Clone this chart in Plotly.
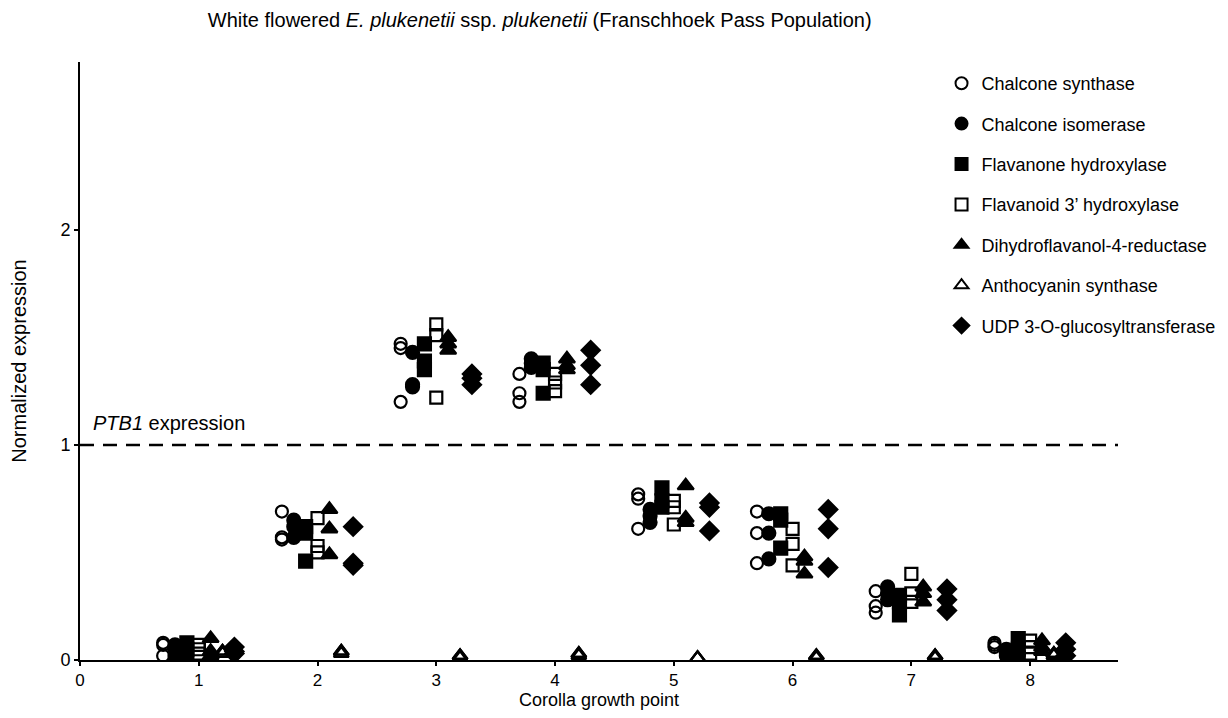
import plotly.graph_objects as go

growth_points = [1, 2, 3, 4, 5, 6, 7, 8]
x_ticks = [0, 1, 2, 3, 4, 5, 6, 7, 8]
y_ticks = [0, 1, 2]

genes = ["Chalcone synthase", "Chalcone isomerase", "Flavanone hydroxylase",
         "Flavanoid 3\u2019 hydroxylase", "Dihydroflavanol-4-reductase",
         "Anthocyanin synthase", "UDP 3-O-glucosyltransferase"]

chs = [[0.02, 0.07, 0.08], [0.69, 0.56, 0.57], [1.47, 1.45, 1.20], [1.33, 1.24, 1.20],
       [0.77, 0.75, 0.61], [0.69, 0.59, 0.45], [0.32, 0.25, 0.22], [0.08, 0.07, 0.06]]
chi = [[0.02, 0.05, 0.07], [0.65, 0.62, 0.57], [1.43, 1.27, 1.28], [1.40, 1.38, 1.36],
       [0.70, 0.67, 0.64], [0.68, 0.59, 0.47], [0.34, 0.31, 0.28], [0.05, 0.03, 0.02]]
f3h = [[0.08, 0.05, 0.01], [0.62, 0.59, 0.46], [1.47, 1.39, 1.35], [1.38, 1.35, 1.24],
       [0.80, 0.74, 0.71], [0.68, 0.65, 0.52], [0.30, 0.27, 0.21], [0.10, 0.05, 0.01]]
f3ph = [[0.07, 0.05, 0.03], [0.66, 0.53, 0.50], [1.56, 1.51, 1.22], [1.33, 1.29, 1.25],
        [0.74, 0.71, 0.63], [0.61, 0.54, 0.44], [0.40, 0.31, 0.27], [0.09, 0.06, 0.03]]
dfr = [[0.10, 0.04, 0.02], [0.70, 0.61, 0.49], [1.50, 1.47, 1.44], [1.40, 1.37, 1.35],
       [0.81, 0.66, 0.64], [0.48, 0.46, 0.40], [0.34, 0.31, 0.27], [0.09, 0.06, 0.04]]
ans = [[0.04, 0.04, 0.03], [0.04, 0.04, 0.03], [0.02, 0.02, 0.01], [0.03, 0.03, 0.02],
       [0.01, 0.01, 0.01], [0.02, 0.02, 0.01], [0.02, 0.02, 0.01], [0.03, 0.03, 0.02]]
ufgt = [[0.06, 0.04, 0.03], [0.62, 0.45, 0.44], [1.33, 1.31, 1.28], [1.44, 1.37, 1.28],
        [0.73, 0.71, 0.60], [0.70, 0.61, 0.43], [0.33, 0.28, 0.23], [0.08, 0.05, 0.02]]

ptb1_level = 1.0

series = [chs, chi, f3h, f3ph, dfr, ans, ufgt]
offsets = [-0.3, -0.2, -0.1, 0.0, 0.1, 0.2, 0.3]
symbols = ["circle-open", "circle", "square", "square-open", "triangle-up",
           "triangle-up-open", "diamond"]
sizes = [12, 13, 13, 12, 14, 13, 14]

fig = go.Figure()
for name, data, off, sym, sz in zip(genes, series, offsets, symbols, sizes):
    xs, ys = [], []
    for gp, vals in zip(growth_points, data):
        for v in vals:
            xs.append(gp + off)
            ys.append(v)
    fig.add_trace(go.Scatter(
        x=xs, y=ys, mode="markers", name=name, legendgroup=name,
        marker=dict(symbol=sym, size=sz, color="black",
                    line=dict(color="black", width=2.2)),
    ))

fig.add_shape(type="line", xref="paper", yref="y", x0=0, x1=1,
              y0=ptb1_level, y1=ptb1_level,
              line=dict(color="black", width=2.5, dash="14px,9px"))
fig.add_annotation(x=0.09, y=1.1, xref="x", yref="y", xanchor="left", yanchor="middle",
                   text="<i>PTB1</i> expression", showarrow=False,
                   font=dict(size=20, color="black"))

font_family = "Liberation Sans, Arial, sans-serif"
fig.update_layout(
    width=1228, height=718,
    margin=dict(l=72, r=118, t=54, b=66, autoexpand=False),
    paper_bgcolor="white", plot_bgcolor="white",
    font=dict(family=font_family, color="black", size=17),
    title=dict(text="White flowered <i>E. plukenetii</i> ssp. <i>plukenetii</i> (Franschhoek Pass Population)",
               x=0.433, xanchor="center", y=0.983, yanchor="middle",
               font=dict(size=20, color="black")),
    showlegend=True,
    legend=dict(x=0.83, y=0.995, xanchor="left", yanchor="top",
                bgcolor="rgba(0,0,0,0)", font=dict(size=18),
                tracegroupgap=14, itemsizing="constant"),
    xaxis=dict(range=[0, 8.74], tickvals=x_ticks, ticktext=[str(t) for t in x_ticks],
               showgrid=False, zeroline=False, showline=True, linecolor="black",
               linewidth=2, ticks="outside", ticklen=4, tickwidth=1.5, tickcolor="black",
               tickfont=dict(size=17), automargin=False,
               title=dict(text="Corolla growth point", font=dict(size=18), standoff=0)),
    yaxis=dict(range=[0, 2.78], tickvals=y_ticks, ticktext=[str(t) for t in y_ticks],
               showgrid=False, zeroline=False, showline=True, linecolor="black",
               linewidth=2, ticks="outside", ticklen=4, tickwidth=1.5, tickcolor="black",
               tickfont=dict(size=18), automargin=False,
               title=dict(text="Normalized expression", font=dict(size=20), standoff=36)),
)

fig.write_html("out.html")
